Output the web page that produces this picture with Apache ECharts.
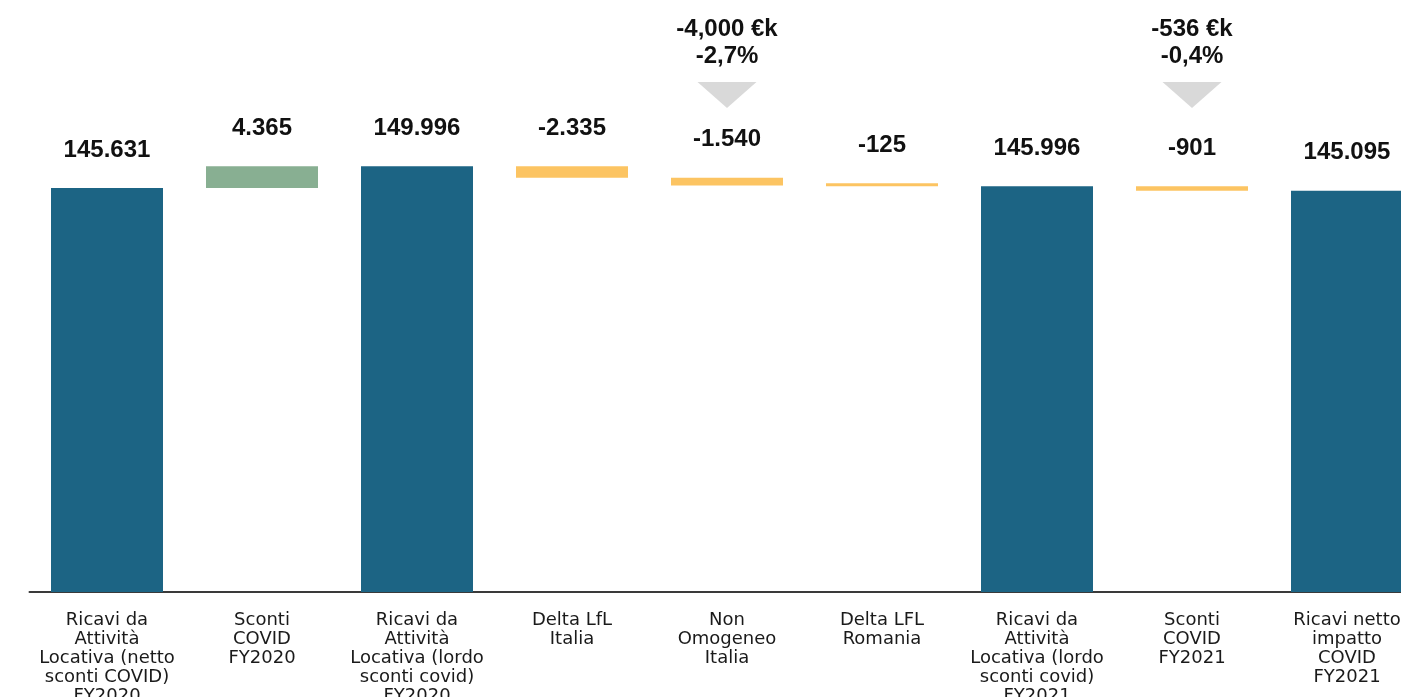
<!DOCTYPE html>
<html>
<head>
<meta charset="utf-8">
<script src="https://cdn.jsdelivr.net/npm/echarts@6/dist/echarts.min.js"></script>
<style>
  html, body { margin: 0; padding: 0; background: #fff; width: 100%; height: 100%; overflow: hidden; }
  #chart { width: 100%; height: 100%; }
</style>
</head>
<body>
<div id="chart"></div>
<script>
const categories = [
  'Ricavi da\nAttività\nLocativa (netto\nsconti COVID)\nFY2020',
  'Sconti\nCOVID\nFY2020',
  'Ricavi da\nAttività\nLocativa (lordo\nsconti covid)\nFY2020',
  'Delta LfL\nItalia',
  'Non\nOmogeneo\nItalia',
  'Delta LFL\nRomania',
  'Ricavi da\nAttività\nLocativa (lordo\nsconti covid)\nFY2021',
  'Sconti\nCOVID\nFY2021',
  'Ricavi netto\nimpatto\nCOVID\nFY2021'
]
const values = [145631, 4365, 149996, -2335, -1540, -125, 145996, -901, 145095]
const kinds = ['total', 'up', 'total', 'down', 'down', 'down', 'total', 'down', 'total']
const calloutIndex = [4, 7]
const calloutLines = [['-4,000 €k', '-2,7%'], ['-536 €k', '-0,4%']]
const calloutLevel = 164200

const colors = { total: '#1C6484', up: '#88AF92', down: '#FCC462' }

// waterfall: invisible base + visible step
const base = []
const shown = []
let running = 0
values.forEach((v, i) => {
  if (kinds[i] === 'total') {
    base.push(0); shown.push(v); running = v
  } else if (kinds[i] === 'up') {
    base.push(running); shown.push(v); running += v
  } else {
    running += v; base.push(running); shown.push(-v)
  }
})

function fmt(v) {
  const s = String(Math.abs(v)).replace(/\B(?=(\d{3})+(?!\d))/g, '.')
  return (v < 0 ? '-' : '') + s
}

const chart = echarts.init(document.getElementById('chart'), null, { renderer: 'canvas' })
chart.setOption({
  animation: false,
  grid: { left: 29.5, width: 1395, top: 91, bottom: 105, outerBoundsMode: 'none', containLabel: false },
  xAxis: {
    type: 'category',
    data: categories,
    axisLine: { lineStyle: { color: '#3a3a3a', width: 2 } },
    axisTick: { show: false },
    axisLabel: {
      interval: 0,
      margin: 19,
      color: '#1a1a1a',
      fontFamily: 'DejaVu Sans',
      fontSize: 18,
      lineHeight: 19,
      align: 'center'
    }
  },
  yAxis: {
    type: 'value',
    min: 65000,
    max: 165000,
    show: false,
    splitLine: { show: false }
  },
  series: [
    {
      name: 'base',
      type: 'bar',
      stack: 'w',
      barWidth: 112,
      silent: true,
      itemStyle: { color: 'transparent' },
      data: base
    },
    {
      name: 'valore',
      type: 'bar',
      stack: 'w',
      barWidth: 112,
      barMinHeight: 3,
      data: shown.map((v, i) => ({ value: v, itemStyle: { color: colors[kinds[i]] } })),
      label: {
        show: true,
        position: 'top',
        distance: 26,
        color: '#111',
        fontFamily: 'Liberation Sans',
        fontWeight: 'bold',
        fontSize: 24,
        formatter: p => fmt(values[p.dataIndex])
      },
      markPoint: {
        symbol: 'path://M0,0L60,0L30,26Z',
        symbolSize: [59, 26],
        itemStyle: { color: '#D9D9D9' },
        label: {
          show: true,
          position: 'top',
          distance: 12,
          color: '#111',
          fontFamily: 'Liberation Sans',
          fontWeight: 'bold',
          fontSize: 24,
          lineHeight: 27
        },
        data: calloutIndex.map((ci, k) => ({
          coord: [ci, calloutLevel],
          label: { formatter: calloutLines[k].join('\n') }
        }))
      }
    }
  ]
})
</script>
</body>
</html>
